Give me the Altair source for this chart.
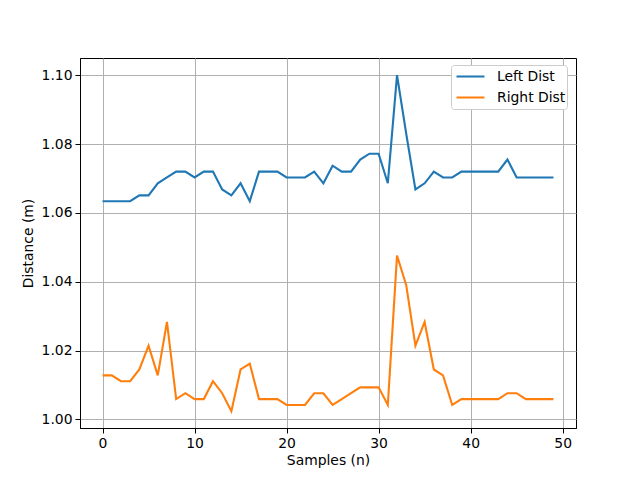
import altair as alt
import pandas as pd

samples = list(range(50))
left_dist = [1.0634, 1.0634, 1.0634, 1.0634, 1.0651, 1.0651, 1.0686, 1.0703, 1.0720, 1.0720,
             1.0703, 1.0720, 1.0720, 1.0668, 1.0651, 1.0686, 1.0634, 1.0720, 1.0720, 1.0720,
             1.0703, 1.0703, 1.0703, 1.0720, 1.0686, 1.0737, 1.0720, 1.0720, 1.0755, 1.0772,
             1.0772, 1.0686, 1.1000, 1.0830, 1.0668, 1.0686, 1.0720, 1.0703, 1.0703, 1.0720,
             1.0720, 1.0720, 1.0720, 1.0720, 1.0755, 1.0703, 1.0703, 1.0703, 1.0703, 1.0703]
right_dist = [1.0128, 1.0128, 1.0111, 1.0111, 1.0145, 1.0214, 1.0128, 1.0283, 1.0059, 1.0076,
              1.0059, 1.0059, 1.0111, 1.0076, 1.0024, 1.0145, 1.0162, 1.0059, 1.0059, 1.0059,
              1.0042, 1.0042, 1.0042, 1.0076, 1.0076, 1.0042, 1.0059, 1.0076, 1.0093, 1.0093,
              1.0093, 1.0042, 1.0476, 1.0390, 1.0214, 1.0283, 1.0145, 1.0128, 1.0042, 1.0059,
              1.0059, 1.0059, 1.0059, 1.0059, 1.0076, 1.0076, 1.0059, 1.0059, 1.0059, 1.0059]
series_names = ["Left Dist", "Right Dist"]
series_colors = ["#1f77b4", "#ff7f0e"]
x_ticks = [0, 10, 20, 30, 40, 50]
y_ticks = [1.00, 1.02, 1.04, 1.06, 1.08, 1.10]

df = pd.concat([
    pd.DataFrame({"n": samples, "dist": left_dist, "series": series_names[0]}),
    pd.DataFrame({"n": samples, "dist": right_dist, "series": series_names[1]}),
])

font = "DejaVu Sans"

chart = alt.Chart(df).mark_line(strokeWidth=2.1).encode(
    x=alt.X("n:Q", title="Samples (n)",
            scale=alt.Scale(domain=[-2.45, 51.45], nice=False, zero=False),
            axis=alt.Axis(values=x_ticks, format="d")),
    y=alt.Y("dist:Q", title="Distance (m)",
            scale=alt.Scale(domain=[0.9975, 1.105], nice=False, zero=False),
            axis=alt.Axis(values=y_ticks, format=".2f")),
    color=alt.Color("series:N", title=None,
                    scale=alt.Scale(domain=series_names, range=series_colors),
                    legend=alt.Legend(orient="none", legendX=371, legendY=7,
                                      symbolType="stroke", symbolSize=784,
                                      symbolStrokeWidth=2.1, clipHeight=21,
                                      symbolOffset=3,
                                      fillColor="white", strokeColor="#cccccc",
                                      cornerRadius=3, padding=1,
                                      labelFont=font, labelFontSize=13.9,
                                      labelColor="black", rowPadding=0,
                                      labelOffset=11)),
).properties(
    width=496, height=370,
    autosize=alt.AutoSizeParams(type="none"),
    padding={"left": 72, "top": 50, "right": 56, "bottom": 45},
).configure_view(
    stroke="black", strokeWidth=1
).configure_axis(
    labelFont=font, labelFontSize=13.9, labelColor="black",
    titleFont=font, titleFontSize=13.9, titleFontWeight="normal", titleColor="black",
    domainColor="black", tickColor="black", tickSize=5, labelPadding=3,
    grid=True, gridColor="#b0b0b0", gridWidth=1,
).configure_axisX(titlePadding=4).configure_axisY(titlePadding=6)

chart.save("out.html", embed_options={"renderer": "svg", "actions": False})
